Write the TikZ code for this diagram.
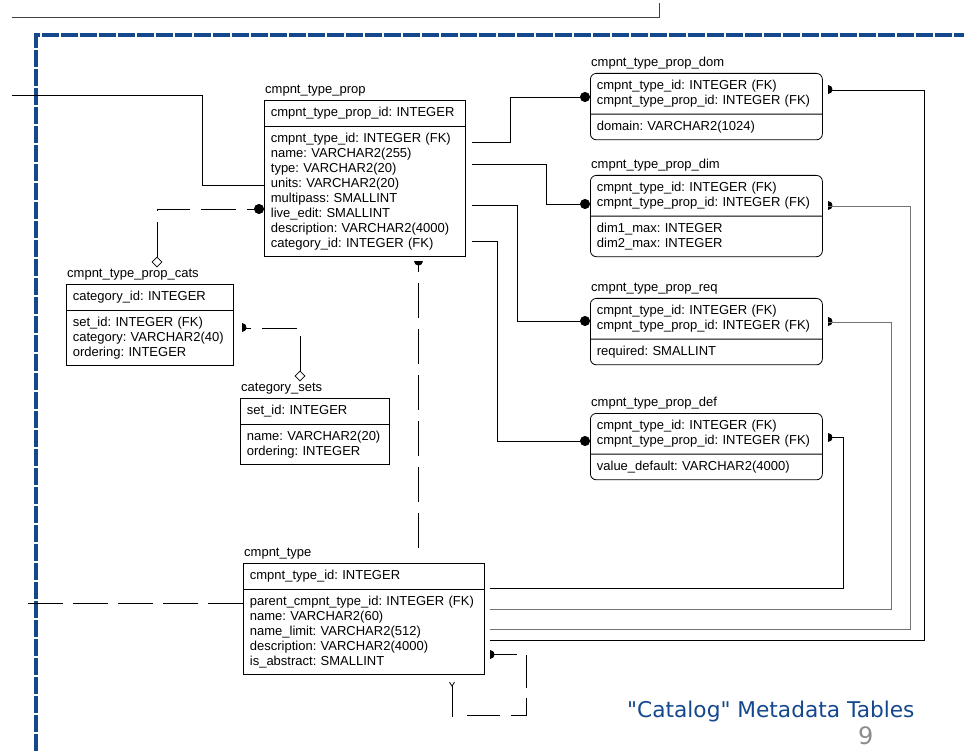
\documentclass[tikz,border=0pt]{standalone}
\usepackage{fontspec}
\setmainfont{Liberation Sans}
\newfontfamily\slidefont{DejaVu Sans}
\usepackage{tikz}
\usetikzlibrary{shapes.multipart,shapes.geometric,arrows.meta,calc}
\definecolor{slideblue}{RGB}{20,72,140}
\frenchspacing

\tikzset{
  tbl/.style={draw, rectangle split, rectangle split parts=2, anchor=north west, line width=0.8pt,
    inner xsep=6.5pt, inner ysep=6.4pt, font=\fontsize{13}{15}\selectfont, align=left},
  tblr/.style={tbl, rounded corners=6pt},
  ttl/.style={anchor=south west, inner xsep=1pt, inner ysep=3.5pt, font=\fontsize{13}{15}\selectfont},
  rel/.style={line width=0.8pt},
  nonid/.style={rel, dash pattern=on 35pt off 11pt},
  many/.style={-{Circle[length=10pt]}},
  opt/.style={draw, diamond, fill=white, line width=0.7pt, inner sep=0pt, minimum size=10pt}
}
% half disc marker at the parent end
\newcommand{\onemark}[2]{\fill[shift={(#1)},rotate=#2] (0,-4.5) .. controls (6,-4.5) and (6,4.5) .. (0,4.5) -- cycle;}

\begin{document}
\begin{tikzpicture}[x=1pt,y=-1pt]
    \useasboundingbox (0,0) rectangle (964,751);

    % Slide frame
    \draw[line width=0.8pt, black!75] (12,17) -- (659,17) -- (659,3);
    \draw[slideblue, line width=4.5pt, dash pattern=on 17pt off 2pt] (36,751) -- (36,35) -- (964,35);

    % Tables
    \node[tbl, text width=188pt] (prop) at (264,100) {cmpnt\_type\_prop\_id: INTEGER
      \nodepart{two} cmpnt\_type\_id: INTEGER (FK)\\ name: VARCHAR2(255)\\ type: VARCHAR2(20)\\ units: VARCHAR2(20)\\
      multipass: SMALLINT\\ live\_edit: SMALLINT\\ description: VARCHAR2(4000)\\ category\_id: INTEGER (FK)};
    \node[ttl] (propt) at (prop.north west) {cmpnt\_type\_prop};

    \node[tblr, text width=219pt] (dom) at (590,73) {cmpnt\_type\_id: INTEGER (FK)\\ cmpnt\_type\_prop\_id: INTEGER (FK)
      \nodepart{two} domain: VARCHAR2(1024)};
    \node[ttl] (domt) at (dom.north west) {cmpnt\_type\_prop\_dom};

    \node[tblr, text width=219pt] (dim) at (590,175) {cmpnt\_type\_id: INTEGER (FK)\\ cmpnt\_type\_prop\_id: INTEGER (FK)
      \nodepart{two} dim1\_max: INTEGER\\ dim2\_max: INTEGER};
    \node[ttl] (dimt) at (dim.north west) {cmpnt\_type\_prop\_dim};

    \node[tblr, text width=219pt] (req) at (590,298) {cmpnt\_type\_id: INTEGER (FK)\\ cmpnt\_type\_prop\_id: INTEGER (FK)
      \nodepart{two} required: SMALLINT};
    \node[ttl] (reqt) at (req.north west) {cmpnt\_type\_prop\_req};

    \node[tblr, text width=219pt] (def) at (590,413) {cmpnt\_type\_id: INTEGER (FK)\\ cmpnt\_type\_prop\_id: INTEGER (FK)
      \nodepart{two} value\_default: VARCHAR2(4000)};
    \node[ttl] (deft) at (def.north west) {cmpnt\_type\_prop\_def};

    \node[tbl, text width=154pt] (cats) at (66,284) {category\_id: INTEGER
      \nodepart{two} set\_id: INTEGER (FK)\\ category: VARCHAR2(40)\\ ordering: INTEGER};
    \node[ttl] (catst) at (cats.north west) {cmpnt\_type\_prop\_cats};

    \node[tbl, text width=136pt] (sets) at (240,398) {set\_id: INTEGER
      \nodepart{two} name: VARCHAR2(20)\\ ordering: INTEGER};
    \node[ttl] (setst) at (sets.north west) {category\_sets};

    \node[tbl, text width=228pt] (type) at (243,563) {cmpnt\_type\_id: INTEGER
      \nodepart{two} parent\_cmpnt\_type\_id: INTEGER (FK)\\ name: VARCHAR2(60)\\ name\_limit: VARCHAR2(512)\\
      description: VARCHAR2(4000)\\ is\_abstract: SMALLINT};
    \node[ttl] (typet) at (type.north west) {cmpnt\_type};

    % Links out of cmpnt_type_prop
    \coordinate (propfar) at (12,95);
    \draw[rel] (propfar) -| ($(prop.north west)+(-62,85)$) -- ($(prop.north west)+(0,85)$);
    \draw[rel, many] ($(prop.north east)+(6,42)$) -- ++(39,0) |- ($(dom.north west)+(0,24)$);
    \draw[rel, many] ($(prop.north east)+(6,64)$) -- ++(75,0) |- ($(dim.north west)+(0,29)$);
    \draw[rel, many] ($(prop.north east)+(6,105)$) -- ++(46,0) |- ($(req.north west)+(0,23)$);
    \draw[rel, many] ($(prop.north east)+(6,141)$) -- ++(26,0) |- ($(def.north west)+(0,28)$);

    % Categories
    \node[opt] (catsdia) at ($(cats.north west)+(91,-22)$) {};
    \draw[nonid, many] (catsdia.north) |- ($(prop.north west)+(0,109)$);
    \node[opt] (setsdia) at ($(sets.north west)+(60,-22)$) {};
    \coordinate (catsone) at ($(cats.north east)+(8,44)$);
    \onemark{catsone}{0}
    \draw[nonid] (setsdia.north) |- (catsone);

    % Links out of cmpnt_type
    \coordinate (domone) at ($(dom.north east)+(5,17)$);
    \coordinate (dimone) at ($(dim.north east)+(5,31)$);
    \coordinate (reqone) at ($(req.north east)+(5,24)$);
    \coordinate (defone) at ($(def.north east)+(5,24)$);
    \onemark{domone}{0}
    \onemark{dimone}{0}
    \onemark{reqone}{0}
    \onemark{defone}{0}
    \draw[rel] ($(type.north east)+(5,77)$) -| ($(dom.north east)+(102,17)$) -- (domone);
    \draw[rel, black!55] ($(type.north east)+(5,66)$) -| ($(dim.north east)+(88,31)$) -- (dimone);
    \draw[rel, black!55] ($(type.north east)+(5,46)$) -| ($(req.north east)+(69,24)$) -- (reqone);
    \draw[rel] ($(type.north east)+(5,25)$) -| ($(def.north east)+(21,24)$) -- (defone);

    \coordinate (propone) at ($(prop.south west)+(154,4)$);
    \onemark{propone}{-90}
    \draw[nonid, dash phase=24pt] (propone) -- ($(type.north west)+(175,-10)$);

    \coordinate (typeleft) at (27,603);
    \draw[nonid, dash pattern=on 35pt off 10pt] ($(type.north west)+(0,40)$) -- (typeleft);

    % Parent type (self link)
    \coordinate (typeone) at ($(type.north east)+(5,91)$);
    \coordinate (typefork) at ($(type.south west)+(209,11)$);
    \onemark{typeone}{0}
    \draw[nonid, dash pattern=on 33pt off 10.5pt, dash phase=6pt] (typeone) -- ++(37,0) -- ++(0,61) -- ++(-63,0);
    \draw[rel] ($(typefork)+(0,31)$) -- (typefork);
    \draw[rel] (typefork) -- ++(-2.5,-4) (typefork) -- ++(2.5,-4);

    % Caption
    \node[font=\slidefont\fontsize{21.7}{26}\selectfont, text=slideblue, anchor=base west, inner sep=0pt] (capt) at (627,717) {"Catalog" Metadata Tables};
    \node[font=\slidefont\fontsize{24}{28}\selectfont, text=black!45, anchor=base west, inner sep=0pt] (pgno) at (858,744) {9};
\end{tikzpicture}
\end{document}
